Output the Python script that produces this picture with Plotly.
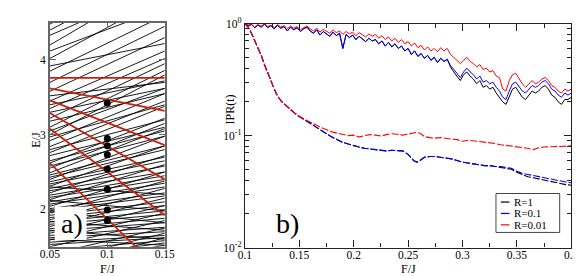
import plotly.graph_objects as go

W, H = 581, 276

# ---------------- panel a) data ----------------
F_edges = [0.05, 0.15]
black_E_left = [4.48, 4.40, 4.33, 4.20, 4.12, 4.02, 3.92, 3.85,
                3.70, 3.58, 3.45, 3.35, 3.22, 3.10, 3.00,
                3.52, 3.40, 3.30, 3.18, 3.05, 2.97, 2.92, 2.84, 2.80,
                2.76, 2.72, 2.65, 2.62, 2.58, 2.55, 2.49, 2.46,
                2.43, 2.40, 2.37, 2.34, 2.31, 2.28, 2.25, 2.22, 2.19, 2.16, 2.13,
                2.10, 2.07, 2.04, 2.01, 1.98, 1.95, 1.92, 1.89, 1.86, 1.83, 1.80,
                1.77, 1.74, 1.71, 1.68, 1.65, 1.62, 1.59, 1.56, 1.53, 1.50,
                1.45, 1.40, 1.35, 1.30, 1.25, 1.20,
                2.12, 1.97, 1.84, 1.72, 1.60, 2.30]
black_E_right = [5.30, 5.20, 5.00, 5.10, 4.70, 4.85, 4.22, 4.60,
                 4.45, 4.30, 4.12, 4.02, 3.95, 3.86, 3.80,
                 3.70, 3.72, 3.62, 3.55, 3.62, 3.40, 3.55, 3.45, 3.20,
                 3.38, 3.10, 3.05, 3.22, 2.98, 3.15, 3.08, 2.85,
                 2.80, 2.98, 2.70, 2.65, 2.85, 2.58, 2.50, 2.72, 2.45, 2.40, 2.60,
                 2.35, 2.30, 2.50, 2.22, 2.18, 2.38, 2.10, 2.05, 2.28, 1.98, 1.93,
                 2.15, 1.88, 1.82, 2.05, 1.76, 1.70, 1.95, 1.65, 1.62, 1.85,
                 1.58, 1.75, 1.55, 1.68, 1.52, 1.62,
                 1.98, 1.82, 1.72, 1.60, 1.52, 2.20]
red_E_left = [3.76, 3.62, 3.46, 3.29, 3.08, 2.62]
red_E_right = [3.76, 3.32, 2.86, 2.40, 1.92, 1.12]
dot_F = 0.1
dot_E = [3.42, 2.95, 2.85, 2.73, 2.54, 2.27, 1.99, 1.85]

# ---------------- panel b) data ----------------
F_solid = [round(0.100 + 0.003 * i, 3) for i in range(101)]
ipr_red = [1.00, 0.97, 0.99, 0.93, 0.98, 0.95, 1.00, 0.94, 0.97, 0.92,
           0.98, 0.93, 0.96, 0.90, 0.95, 0.91, 0.94, 0.88, 0.92, 0.95,
           0.90, 0.86, 0.91, 0.84, 0.89, 0.86, 0.82, 0.88, 0.83, 0.86,
           0.80, 0.85, 0.81, 0.84, 0.78, 0.83, 0.80, 0.76, 0.81, 0.77,
           0.80, 0.74, 0.78, 0.72, 0.76, 0.70, 0.74, 0.68, 0.72, 0.66,
           0.69, 0.63, 0.67, 0.61, 0.64, 0.58, 0.62, 0.57, 0.60, 0.56,
           0.61, 0.57, 0.60, 0.53, 0.50, 0.47, 0.44, 0.47, 0.50, 0.46,
           0.44, 0.41, 0.43, 0.39, 0.40, 0.37, 0.38, 0.34, 0.33, 0.26,
           0.25, 0.31, 0.35, 0.36, 0.32, 0.29, 0.27, 0.29, 0.31, 0.29,
           0.30, 0.32, 0.33, 0.31, 0.28, 0.27, 0.25, 0.24, 0.26, 0.25,
           0.26]
ipr_blue = [1.00, 0.96, 0.98, 0.92, 0.97, 0.93, 0.99, 0.92, 0.96, 0.90,
            0.96, 0.91, 0.94, 0.86, 0.93, 0.88, 0.92, 0.85, 0.90, 0.93,
            0.86, 0.82, 0.88, 0.79, 0.85, 0.81, 0.77, 0.84, 0.78, 0.82,
            0.60, 0.80, 0.75, 0.79, 0.72, 0.77, 0.73, 0.69, 0.74, 0.70,
            0.72, 0.66, 0.70, 0.63, 0.68, 0.62, 0.66, 0.60, 0.63, 0.57,
            0.60, 0.53, 0.57, 0.51, 0.54, 0.49, 0.52, 0.47, 0.50, 0.45,
            0.49, 0.46, 0.48, 0.42, 0.39, 0.36, 0.33, 0.37, 0.40, 0.37,
            0.35, 0.32, 0.34, 0.30, 0.31, 0.29, 0.30, 0.27, 0.25, 0.22,
            0.21, 0.25, 0.29, 0.30, 0.27, 0.25, 0.24, 0.26, 0.28, 0.27,
            0.28, 0.30, 0.31, 0.29, 0.26, 0.25, 0.23, 0.22, 0.24, 0.23,
            0.24]
ipr_black_tail = [0.41, 0.37, 0.34, 0.31, 0.35, 0.37, 0.34, 0.32, 0.29, 0.31,
                  0.27, 0.28, 0.26, 0.27, 0.24, 0.22, 0.20, 0.19, 0.22, 0.26,
                  0.27, 0.24, 0.22, 0.21, 0.23, 0.25, 0.24, 0.25, 0.27, 0.28,
                  0.26, 0.23, 0.22, 0.20, 0.19, 0.21, 0.21, 0.22]
ipr_black = ipr_blue[:63] + ipr_black_tail

F_dash = [0.100, 0.103, 0.106, 0.109, 0.112, 0.115, 0.118, 0.121, 0.124, 0.127, 0.130,
          0.134, 0.138, 0.142, 0.146, 0.150,
          0.155, 0.160, 0.165, 0.170, 0.175, 0.180, 0.185, 0.190, 0.195, 0.200,
          0.205, 0.210, 0.215, 0.220, 0.225, 0.230, 0.235, 0.240, 0.245, 0.250, 0.255,
          0.258, 0.261, 0.265,
          0.270, 0.275, 0.280, 0.285, 0.290, 0.295, 0.300, 0.305, 0.310, 0.315,
          0.320, 0.325, 0.330, 0.335, 0.340, 0.345, 0.350, 0.355, 0.360, 0.365,
          0.370, 0.375, 0.380, 0.385, 0.390, 0.395, 0.400]
dash_blue = [1.0, 0.93, 0.82, 0.71, 0.62, 0.52, 0.43, 0.36, 0.30, 0.26, 0.225,
             0.20, 0.185, 0.17, 0.158, 0.148,
             0.138, 0.128, 0.120, 0.112, 0.103, 0.097, 0.092, 0.087, 0.084, 0.081,
             0.079, 0.077, 0.076, 0.075, 0.074, 0.073, 0.074, 0.074, 0.073, 0.068, 0.060,
             0.058, 0.060, 0.064,
             0.065, 0.065, 0.064, 0.063, 0.062, 0.060, 0.058, 0.057, 0.056, 0.055,
             0.054, 0.054, 0.053, 0.053, 0.052, 0.051, 0.048, 0.046, 0.045, 0.044,
             0.043, 0.042, 0.041, 0.040, 0.039, 0.0385, 0.038]
dash_black_tail = [0.052, 0.051, 0.050, 0.047, 0.045, 0.043, 0.042,
                   0.041, 0.040, 0.039, 0.038, 0.037, 0.0365, 0.036]
dash_black = dash_blue[:53] + dash_black_tail
dash_red = [1.0, 0.93, 0.82, 0.71, 0.62, 0.52, 0.43, 0.36, 0.30, 0.26, 0.225,
            0.20, 0.185, 0.17, 0.158, 0.148,
            0.140, 0.131, 0.124, 0.118, 0.113, 0.108, 0.105, 0.103, 0.100, 0.101,
            0.097, 0.100, 0.102, 0.101, 0.099, 0.102, 0.104, 0.103, 0.101, 0.103, 0.106,
            0.107, 0.105, 0.098,
            0.096, 0.095, 0.096, 0.094, 0.093, 0.092, 0.089, 0.091, 0.090, 0.089,
            0.088, 0.087, 0.085, 0.083, 0.082, 0.081, 0.080, 0.079, 0.077, 0.075,
            0.078, 0.079, 0.080, 0.080, 0.080, 0.081, 0.081]

legend_labels = ["R=1", "R=0.1", "R=0.01"]
legend_colors = ["#000000", "#0000ff", "#ff0000"]

RED_A = "#c8200a"
FONT = "Liberation Serif, Times New Roman, Times, serif"

fig = go.Figure()

bx, by = [], []
for el, er in zip(black_E_left, black_E_right):
    bx += [F_edges[0], F_edges[1], None]
    by += [el, er, None]
fig.add_trace(go.Scatter(x=bx, y=by, mode="lines", line=dict(color="black", width=0.9),
                         xaxis="x", yaxis="y", showlegend=False, hoverinfo="skip"))
rx, ry = [], []
for el, er in zip(red_E_left, red_E_right):
    rx += [F_edges[0], F_edges[1], None]
    ry += [el, er, None]
fig.add_trace(go.Scatter(x=rx, y=ry, mode="lines", line=dict(color=RED_A, width=1.8),
                         xaxis="x", yaxis="y", showlegend=False, hoverinfo="skip"))
fig.add_trace(go.Scatter(x=[dot_F] * len(dot_E), y=dot_E, mode="markers",
                         marker=dict(color="black", size=7),
                         xaxis="x", yaxis="y", showlegend=False, hoverinfo="skip"))

for vals, col in [(dash_black, "#000000"), (dash_blue, "#0000ff"), (dash_red, "#ff0000")]:
    fig.add_trace(go.Scatter(x=F_dash, y=vals, mode="lines",
                             line=dict(color=col, width=1.1, dash="7px,2px"),
                             xaxis="x2", yaxis="y2", showlegend=False))
for vals, col in [(ipr_black, "#000000"), (ipr_blue, "#0000ff"), (ipr_red, "#ff0000")]:
    fig.add_trace(go.Scatter(x=F_solid, y=vals, mode="lines",
                             line=dict(color=col, width=1.0),
                             xaxis="x2", yaxis="y2", showlegend=False))

def px(xp):
    return xp / W

def py(yp):
    return (H - yp) / H

axis_common = dict(showline=True, mirror="ticks", ticks="inside", showgrid=False,
                   zeroline=False, tickfont=dict(family=FONT, size=11.5, color="black"))

fig.update_layout(
    width=W, height=H, margin=dict(l=0, r=0, t=0, b=0),
    paper_bgcolor="white", plot_bgcolor="white",
    font=dict(family=FONT, color="black"),
    xaxis=dict(domain=[px(33), px(152)], range=[0.05, 0.15],
               tickvals=[0.05, 0.1, 0.15], ticktext=["0.05", "0.1", "0.15"],
               ticklabelstandoff=-4,
               linecolor="#666", linewidth=1.5, ticklen=6, tickcolor="#666", **axis_common),
    yaxis=dict(domain=[py(243), py(7)], range=[1.5, 4.5],
               tickvals=[2, 3, 4], ticktext=["2", "3", "4"],
               linecolor="#666", linewidth=1.5, ticklen=6, tickcolor="#666", **axis_common),
    xaxis2=dict(domain=[px(235), px(573)], range=[0.1, 0.4], anchor="y2",
                tickvals=[0.1, 0.15, 0.2, 0.25, 0.3, 0.35, 0.4],
                ticktext=["0.1", "0.15", "0.2", "0.25", "0.3", "0.35", "0.4"],
                ticklabelstandoff=-4,
                linecolor="#222", linewidth=1.3, ticklen=7, tickcolor="#222",
                minor=dict(tickvals=[0.125, 0.175, 0.225, 0.275, 0.325, 0.375],
                           ticks="inside", ticklen=4, tickcolor="#222"),
                **axis_common),
    yaxis2=dict(domain=[py(244), py(8)], type="log", range=[-2, 0], anchor="x2",
                tickvals=[0.01, 0.1, 1],
                ticktext=["10<sup>-2</sup>", "10<sup>-1</sup>", "10<sup>0</sup>"],
                linecolor="#222", linewidth=1.3, ticklen=7, tickcolor="#222",
                minor=dict(tickvals=[0.02, 0.03, 0.04, 0.05, 0.06, 0.07, 0.08, 0.09,
                                     0.2, 0.3, 0.4, 0.5, 0.6, 0.7, 0.8, 0.9],
                           ticks="inside", ticklen=4, tickcolor="#222"),
                **axis_common),
)

shapes = []
shapes.append(dict(type="rect", xref="paper", yref="paper", layer="above",
                   x0=px(38), x1=px(71), y0=py(236), y1=py(201),
                   fillcolor="white", line=dict(width=0)))
shapes.append(dict(type="rect", xref="paper", yref="paper", layer="above",
                   x0=px(495), x1=px(561), y0=py(228), y1=py(187),
                   fillcolor="white", line=dict(color="#444", width=1)))
leg_y = [196, 208, 220]
for yy, col in zip(leg_y, legend_colors):
    shapes.append(dict(type="line", xref="paper", yref="paper", layer="above",
                       x0=px(500), x1=px(509), y0=py(yy), y1=py(yy),
                       line=dict(color=col, width=1.2)))
fig.update_layout(shapes=shapes)

ann = []
for yy, lab in zip(leg_y, legend_labels):
    ann.append(dict(x=px(512), y=py(yy), xref="paper", yref="paper", text=lab,
                    showarrow=False, xanchor="left", yanchor="middle",
                    font=dict(family=FONT, size=11, color="black")))
ann.append(dict(x=px(56), y=py(219), xref="paper", yref="paper", text="a)",
                showarrow=False, xanchor="center", yanchor="middle",
                font=dict(family=FONT, size=28, color="black")))
ann.append(dict(x=px(279), y=py(219), xref="paper", yref="paper", text="b)",
                showarrow=False, xanchor="center", yanchor="middle",
                font=dict(family=FONT, size=28, color="black")))
ann.append(dict(x=px(19), y=py(130), xref="paper", yref="paper", text="E/J",
                showarrow=False, textangle=-90, xanchor="center", yanchor="middle",
                font=dict(family=FONT, size=12, color="black")))
ann.append(dict(x=px(93), y=py(276), xref="paper", yref="paper", text="F/J",
                showarrow=False, xanchor="center", yanchor="bottom",
                font=dict(family=FONT, size=12, color="black")))
ann.append(dict(x=px(404), y=py(276), xref="paper", yref="paper", text="F/J",
                showarrow=False, xanchor="center", yanchor="bottom",
                font=dict(family=FONT, size=12, color="black")))
ann.append(dict(x=px(220), y=py(98), xref="paper", yref="paper", text="IPR(t)",
                showarrow=False, textangle=-90, xanchor="center", yanchor="middle",
                font=dict(family=FONT, size=12, color="black")))
fig.update_layout(annotations=ann)

fig.write_html("out.html")
